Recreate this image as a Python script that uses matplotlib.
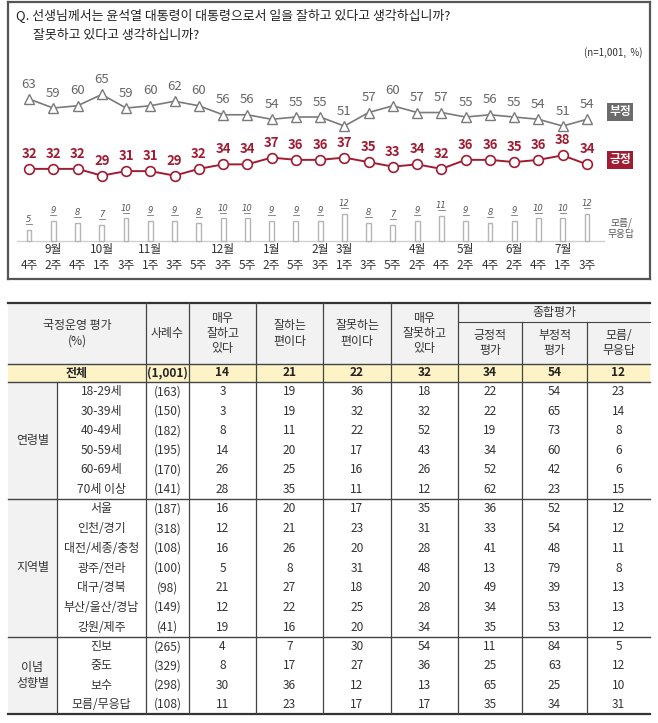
import matplotlib
matplotlib.use("Agg")
import matplotlib.pyplot as plt
from matplotlib.patches import Rectangle

plt.rcParams['font.family'] = ['Noto Sans CJK KR', 'DejaVu Sans']

# ---------------- data ----------------
months = ["", "9월", "", "10월", "", "11월", "", "", "12월", "", "1월", "", "2월", "3월",
          "", "", "4월", "", "5월", "", "6월", "", "7월", ""]
weeks = ["4주", "2주", "4주", "1주", "3주", "1주", "3주", "5주", "3주", "5주", "2주", "5주",
         "3주", "1주", "3주", "5주", "2주", "4주", "2주", "4주", "2주", "4주", "1주", "3주"]
negative = [63, 59, 60, 65, 59, 60, 62, 60, 56, 56, 54, 55, 55, 51, 57, 60, 57, 57, 55, 56, 55, 54, 51, 54]
positive = [32, 32, 32, 29, 31, 31, 29, 32, 34, 34, 37, 36, 36, 37, 35, 33, 34, 32, 36, 36, 35, 36, 38, 34]
unknown = [5, 9, 8, 7, 10, 9, 9, 8, 10, 10, 9, 9, 9, 12, 8, 7, 9, 11, 9, 8, 9, 10, 10, 12]

title1 = "Q. 선생님께서는 윤석열 대통령이 대통령으로서 일을 잘하고 있다고 생각하십니까?"
title2 = "잘못하고 있다고 생각하십니까?"
note = "(n=1,001,  %)"

col_headers = ["사례수", "매우\n잘하고\n있다", "잘하는\n편이다", "잘못하는\n편이다", "매우\n잘못하고\n있다",
               "긍정적\n평가", "부정적\n평가", "모름/\n무응답"]
total_n = "(1,001)"
total_vals = [14, 21, 22, 32, 34, 54, 12]

groups = ["연령별", "지역별", "이념\n성향별"]
group_rows = [
    ["18-29세", "30-39세", "40-49세", "50-59세", "60-69세", "70세 이상"],
    ["서울", "인천/경기", "대전/세종/충청", "광주/전라", "대구/경북", "부산/울산/경남", "강원/제주"],
    ["진보", "중도", "보수", "모름/무응답"],
]
group_n = [
    ["(163)", "(150)", "(182)", "(195)", "(170)", "(141)"],
    ["(187)", "(318)", "(108)", "(100)", "(98)", "(149)", "(41)"],
    ["(265)", "(329)", "(298)", "(108)"],
]
group_vals = [
    [[3, 19, 36, 18, 22, 54, 23],
     [3, 19, 32, 32, 22, 65, 14],
     [8, 11, 22, 52, 19, 73, 8],
     [14, 20, 17, 43, 34, 60, 6],
     [26, 25, 16, 26, 52, 42, 6],
     [28, 35, 11, 12, 62, 23, 15]],
    [[16, 20, 17, 35, 36, 52, 12],
     [12, 21, 23, 31, 33, 54, 12],
     [16, 26, 20, 28, 41, 48, 11],
     [5, 8, 31, 48, 13, 79, 8],
     [21, 27, 18, 20, 49, 39, 13],
     [12, 22, 25, 28, 34, 53, 13],
     [19, 16, 20, 34, 35, 53, 12]],
    [[4, 7, 30, 54, 11, 84, 5],
     [8, 17, 27, 36, 25, 63, 12],
     [30, 36, 12, 13, 65, 25, 10],
     [11, 23, 17, 17, 35, 34, 31]],
]

# ---------------- figure ----------------
W, H = 658, 723
fig = plt.figure(figsize=(W / 100, H / 100), dpi=100)
fig.patch.set_facecolor("white")

# overlay axes in pixel coordinates (for title + table)
tax = fig.add_axes([0, 0, 1, 1])
tax.set_xlim(0, W)
tax.set_ylim(H, 0)
tax.axis("off")

GRAY = "#7a7a7a"
RED = "#a01c32"
TXT = "#333333"

# ---------------- chart ----------------
box_l, box_r, box_t, box_b = 8, 650, 2, 279
x0px, dxpx = 29, 24.26
y0px, dypx = 241, 2.254
ax = fig.add_axes([box_l / W, 1 - box_b / H, (box_r - box_l) / W, (box_b - box_t) / H])
ax.set_xlim((box_l - x0px) / dxpx, (box_r - x0px) / dxpx)
ax.set_ylim(-(box_b - y0px) / dypx, (y0px - box_t) / dypx)
ax.set_xticks([])
ax.set_yticks([])
for s in ax.spines.values():
    s.set_color("#555555")
    s.set_linewidth(1.6)
ax.set_facecolor("none")

xs = list(range(len(weeks)))

# baseline
ax.plot([-0.5, len(xs) - 0.3], [0, 0], color="#d0d0d0", lw=1.0, zorder=1)

# bars (모름/무응답)
ax.bar(xs, unknown, width=0.2, facecolor="white", edgecolor="#b5b5b5", linewidth=1.0, zorder=2)
for x, v in zip(xs, unknown):
    ax.text(x, v + 4.6, str(v), ha="center", va="center", fontsize=6, style="italic",
            color="#555555", family="DejaVu Sans")
    ax.plot([x - 0.13, x + 0.13], [v + 2.6, v + 2.6], color="#777777", lw=0.6, zorder=3)

# lines
ax.plot(xs, negative, color=GRAY, lw=1.2, marker="^", markersize=6.5,
        markerfacecolor="white", markeredgecolor=GRAY, markeredgewidth=1.0, zorder=4)
ax.plot(xs, positive, color=RED, lw=1.4, marker="o", markersize=7,
        markerfacecolor="white", markeredgecolor=RED, markeredgewidth=1.2, zorder=4)
for x, v in zip(xs, negative):
    ax.text(x, v + 6.6, str(v), ha="center", va="center", fontsize=9.5, color="#666666")
for x, v in zip(xs, positive):
    ax.text(x, v + 6.6, str(v), ha="center", va="center", fontsize=9.5, color=RED,
            fontweight="bold")

# x labels
for x, m, w in zip(xs, months, weeks):
    if m:
        ax.text(x, -(249 - y0px) / dypx, m, ha="center", va="center", fontsize=8.5, color=TXT)
    ax.text(x, -(265 - y0px) / dypx, w, ha="center", va="center", fontsize=8.5, color=TXT)

# series badges
tax.text(620, 112, "부정", ha="center", va="center", fontsize=8.5, color="white", fontweight="bold",
         bbox=dict(boxstyle="square,pad=0.18", facecolor="#6b6b6b", edgecolor="none"))
tax.text(620, 160, "긍정", ha="center", va="center", fontsize=8.5, color="white", fontweight="bold",
         bbox=dict(boxstyle="square,pad=0.18", facecolor=RED, edgecolor="none"))
tax.text(621, 228, "모름/\n무응답", ha="center", va="center", fontsize=7, color="#555555",
         linespacing=1.1)

# titles
tax.text(16, 15, title1, ha="left", va="center", fontsize=9.3, color="#222222")
tax.text(33, 35, title2, ha="left", va="center", fontsize=9.3, color="#222222")
tax.text(642, 53, note, ha="right", va="center", fontsize=7, color="#333333")

# ---------------- table ----------------
TL, TR = 8, 650
cols = [8, 57, 146, 189, 256, 323, 391, 458, 522, 587, 650]
top, sub, hdr_b, tot_b = 303, 322, 364, 382
sec_bounds = [382, 499, 637, 714]
LINE = "#444444"
FS = 8.6

# backgrounds
tax.add_patch(Rectangle((TL, top), TR - TL, hdr_b - top, facecolor="#f2f2f2", edgecolor="none", zorder=0))
tax.add_patch(Rectangle((TL, hdr_b), TR - TL, tot_b - hdr_b, facecolor="#fdf3c6", edgecolor="none", zorder=0))
tax.add_patch(Rectangle((TL, tot_b), cols[1] - TL, sec_bounds[-1] - tot_b, facecolor="#f2f2f2",
                        edgecolor="none", zorder=0))

# horizontal lines
tax.plot([TL, TR], [top, top], color="#333333", lw=1.6)
tax.plot([cols[7], TR], [sub, sub], color=LINE, lw=0.8)
tax.plot([TL, TR], [hdr_b, hdr_b], color=LINE, lw=1.0)
tax.plot([TL, TR], [tot_b, tot_b], color=LINE, lw=1.0)
for yb in sec_bounds[1:-1]:
    tax.plot([TL, TR], [yb, yb], color=LINE, lw=1.0)
tax.plot([TL, TR], [sec_bounds[-1], sec_bounds[-1]], color="#333333", lw=1.6)

# vertical lines
for c in cols[2:8]:
    tax.plot([c, c], [top, sec_bounds[-1]], color=LINE, lw=0.9)
for c in cols[8:10]:
    tax.plot([c, c], [sub, sec_bounds[-1]], color=LINE, lw=0.9)
tax.plot([cols[1], cols[1]], [tot_b, sec_bounds[-1]], color=LINE, lw=0.9)

# header text
tax.text((cols[0] + cols[2]) / 2, (top + hdr_b) / 2, "국정운영 평가\n(%)", ha="center", va="center",
         fontsize=FS, color=TXT, linespacing=1.3)
for i, h in enumerate(col_headers[:5]):
    cx = (cols[2 + i] + cols[3 + i]) / 2
    tax.text(cx, (top + hdr_b) / 2, h, ha="center", va="center", fontsize=FS, color=TXT, linespacing=1.2)
tax.text((cols[7] + cols[10]) / 2, (top + sub) / 2, "종합평가", ha="center", va="center", fontsize=FS, color=TXT)
for i, h in enumerate(col_headers[5:]):
    cx = (cols[7 + i] + cols[8 + i]) / 2
    tax.text(cx, (sub + hdr_b) / 2, h, ha="center", va="center", fontsize=FS, color=TXT, linespacing=1.2)

# total row
ty = (hdr_b + tot_b) / 2
tax.text((cols[0] + cols[2]) / 2, ty, "전체", ha="center", va="center", fontsize=FS, fontweight="bold", color="#222222")
tax.text((cols[2] + cols[3]) / 2, ty, total_n, ha="center", va="center", fontsize=FS, fontweight="bold", color="#222222")
for i, v in enumerate(total_vals):
    tax.text((cols[3 + i] + cols[4 + i]) / 2, ty, str(v), ha="center", va="center", fontsize=FS,
             fontweight="bold", color="#222222")

# body rows
for g in range(len(groups)):
    y_a, y_b = sec_bounds[g], sec_bounds[g + 1]
    nrow = len(group_rows[g])
    rh = (y_b - y_a) / nrow
    tax.text((cols[0] + cols[1]) / 2, (y_a + y_b) / 2, groups[g], ha="center", va="center",
             fontsize=FS, color=TXT, linespacing=1.3)
    for r in range(nrow):
        cy = y_a + rh * (r + 0.5)
        tax.text((cols[1] + cols[2]) / 2, cy, group_rows[g][r], ha="center", va="center", fontsize=FS, color=TXT)
        tax.text((cols[2] + cols[3]) / 2, cy, group_n[g][r], ha="center", va="center", fontsize=FS, color=TXT)
        for i, v in enumerate(group_vals[g][r]):
            tax.text((cols[3 + i] + cols[4 + i]) / 2, cy, str(v), ha="center", va="center",
                     fontsize=FS, color=TXT)

fig.savefig("out.png", dpi=100)
